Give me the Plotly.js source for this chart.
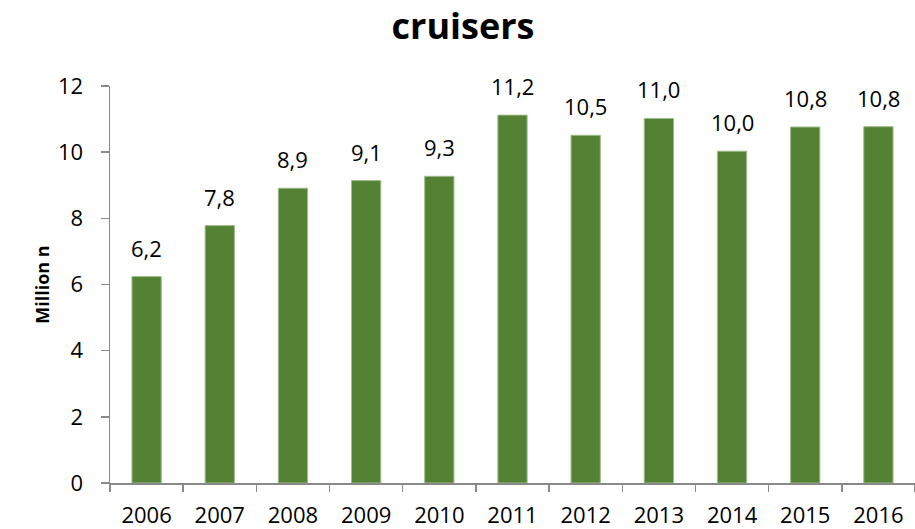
<!DOCTYPE html>
<html>
<head>
<meta charset="utf-8">
<script src="https://cdn.plot.ly/plotly-3.0.1.min.js"></script>
<style>html,body{margin:0;padding:0;background:#fff;}#chart{width:915px;height:529px;}</style>
</head>
<body>
<div id="chart"></div>
<script>
var years = ["2006","2007","2008","2009","2010","2011","2012","2013","2014","2015","2016"];
var values = [6.24, 7.78, 8.91, 9.14, 9.27, 11.12, 10.51, 11.02, 10.03, 10.76, 10.77];
var labels = ["6,2","7,8","8,9","9,1","9,3","11,2","10,5","11,0","10,0","10,8","10,8"];
var yTicks = [0, 2, 4, 6, 8, 10, 12];
var chartTitle = "cruisers";
var yTitle = "Million n";

var FONT = "Open Sans, Noto Sans, sans-serif";
var AXIS = "#898989";

var trace = {
  type: "bar",
  x: years,
  y: values,
  marker: {color: "#548235", line: {color: "#9fbc8c", width: 1}},
  hoverinfo: "skip"
};

var annotations = years.map(function(yr, i){
  return {
    x: i, y: values[i], xref: "x", yref: "y",
    text: labels[i], showarrow: false,
    yanchor: "middle", xanchor: "center", yshift: 29,
    font: {family: FONT, size: 22, color: "#000"}
  };
});

var layout = {
  width: 915, height: 529,
  margin: {l: 110, r: 0, t: 86, b: 46},
  paper_bgcolor: "#fff", plot_bgcolor: "#fff",
  bargap: 0.6,
  showlegend: false,
  title: {
    text: "<b>" + chartTitle + "</b>",
    font: {family: FONT, size: 36, color: "#000"},
    x: 463/915, xanchor: "center", xref: "container",
    y: 1 - 26/529, yanchor: "middle", yref: "container"
  },
  xaxis: {
    type: "category",
    range: [-0.5, years.length - 0.5],
    showline: true, linecolor: AXIS, linewidth: 1.5,
    ticks: "outside", tickson: "boundaries", ticklen: 7, tickcolor: AXIS, tickwidth: 1.5,
    ticklabelstandoff: 12,
    tickangle: 0,
    tickfont: {family: FONT, size: 22, color: "#000"},
    showgrid: false, zeroline: false, fixedrange: true
  },
  yaxis: {
    range: [0, 12],
    tickvals: yTicks,
    ticktext: yTicks.map(String),
    showline: true, linecolor: AXIS, linewidth: 1.5,
    ticks: "outside", ticklen: 8, tickcolor: AXIS, tickwidth: 1.5,
    ticklabelstandoff: 13,
    tickfont: {family: FONT, size: 22, color: "#000"},
    showgrid: false, zeroline: false, fixedrange: true,
    title: {text: "<b>" + yTitle + "</b>", font: {family: FONT, size: 18, color: "#000"}, standoff: 3}
  },
  annotations: annotations
};

Plotly.newPlot("chart", [trace], layout, {displayModeBar: false, staticPlot: true});
</script>
</body>
</html>
